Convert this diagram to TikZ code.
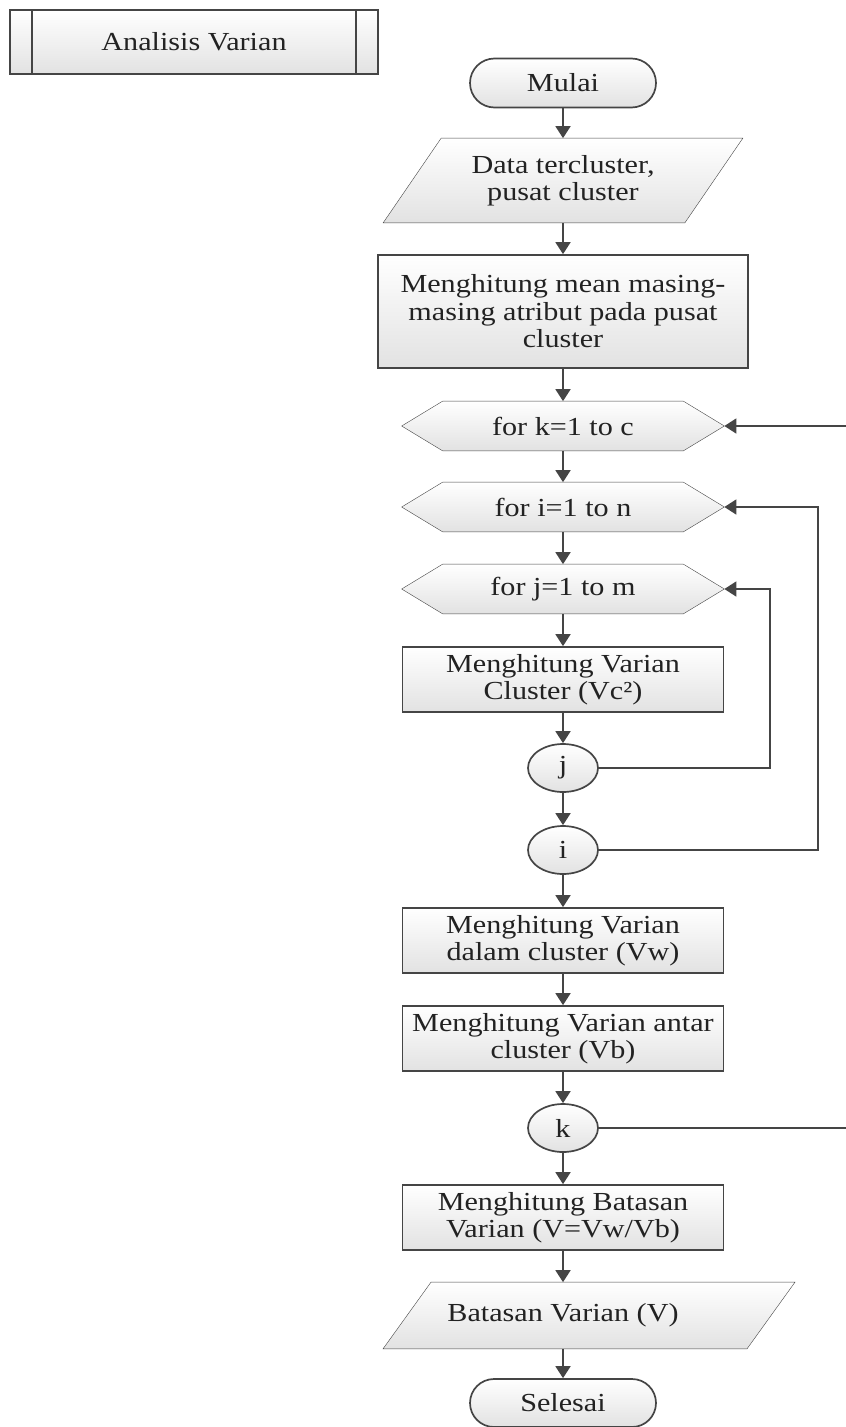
\documentclass[tikz,border=0pt]{standalone}
\usepackage{fontspec}
\setmainfont{Liberation Serif}[FakeStretch=1.16]
\usetikzlibrary{arrows.meta,shapes.geometric,shapes.misc,backgrounds,calc}
\definecolor{ink}{HTML}{454545}
\definecolor{txt}{HTML}{222222}
\definecolor{shadelo}{HTML}{E2E2E2}

\begin{document}
\begin{tikzpicture}[x=1pt,y=-1pt,
  line width=1.7pt,
  every node/.style={font=\fontsize{26}{27.5}\selectfont, text=txt, align=center, inner sep=0pt},
  shaded/.style={draw=ink, top color=white, bottom color=shadelo},
  procbox/.style={shaded, rectangle, minimum width=321pt, minimum height=65pt},
  termbox/.style={shaded, rounded rectangle, minimum width=186pt, minimum height=49pt},
  joint/.style={shaded, ellipse, minimum width=70pt, minimum height=48pt},
  loophead/.style={rectangle, minimum width=321pt, minimum height=48pt},
  flow/.style={draw=ink, -{Triangle[width=15pt,length=12pt]}},
  link/.style={draw=ink}
]
\useasboundingbox (0,0) rectangle (846,1427);
\clip (0,0) rectangle (846,1427);

% sub-process title box
\node[shaded, rectangle, minimum width=368pt, minimum height=64pt] (av) at (194,42) {Analisis Varian};
\draw[link] ($(av.north west)+(23,0)$) -- ($(av.south west)+(23,0)$);
\draw[link] ($(av.north east)+(-23,0)$) -- ($(av.south east)+(-23,0)$);

% main flow
\node[termbox] (mulai) at (563,83) {Mulai};
\node[rectangle, minimum width=358pt, minimum height=83pt] (dat) at (563,180.5) {Data tercluster,\\pusat cluster};
\node[procbox, minimum width=370pt, minimum height=113pt] (mean) at (563,311.5) {Menghitung mean masing-\\masing atribut pada pusat\\cluster};
\node[loophead] (fk) at (563,426) {for k=1 to c};
\node[loophead] (fi) at (563,507) {for i=1 to n};
\node[loophead] (fj) at (563,589) {for j=1 to m};
\node[procbox] (vc) at (563,679.5) {Menghitung Varian\\Cluster (Vc²)};
\node[joint] (cj) at (563,768) {j};
\node[joint] (ci) at (563,850) {i};
\node[procbox] (vw) at (563,940.5) {Menghitung Varian\\dalam cluster (Vw)};
\node[procbox] (vb) at (563,1038.5) {Menghitung Varian antar\\cluster (Vb)};
\node[joint] (ck) at (563,1128) {k};
\node[procbox] (bt) at (563,1217.5) {Menghitung Batasan\\Varian (V=Vw/Vb)};
\node[rectangle, minimum width=200pt, minimum height=65pt] (bv) at (563,1315.5) {Batasan Varian (V)};
\node[termbox, minimum height=48pt] (sel) at (563,1403) {Selesai};

% outlines of the parallelograms and loop hexagons
\begin{scope}[on background layer]
  \path[shaded] (dat.south west) -- ($(dat.north west)+(58,0)$) -- (dat.north east)
      -- ($(dat.south east)+(-58,0)$) -- cycle;
  \foreach \h in {fk,fi,fj}{
    \path[shaded] (\h.west) -- ($(\h.north west)+(41,0)$) -- ($(\h.north east)+(-41,0)$)
        -- (\h.east) -- ($(\h.south east)+(-41,0)$) -- ($(\h.south west)+(41,0)$) -- cycle;
  }
  \path[shaded] ($(bv.south)+(-180,0)$) -- ($(bv.north)+(-132,0)$) -- ($(bv.north)+(232,0)$)
      -- ($(bv.south)+(184,0)$) -- cycle;
\end{scope}

% straight connectors
\draw[flow] (mulai.south) -- (dat.north);
\draw[flow] (dat.south) -- (mean.north);
\draw[flow] (mean.south) -- (fk.north);
\draw[flow] (fk.south) -- (fi.north);
\draw[flow] (fi.south) -- (fj.north);
\draw[flow] (fj.south) -- (vc.north);
\draw[flow] (vc.south) -- (cj.north);
\draw[flow] (cj.south) -- (ci.north);
\draw[flow] (ci.south) -- (vw.north);
\draw[flow] (vw.south) -- (vb.north);
\draw[flow] (vb.south) -- (ck.north);
\draw[flow] (ck.south) -- (bt.north);
\draw[flow] (bt.south) -- (bv.north);
\draw[flow] (bv.south) -- (sel.north);

% loop-back connectors
\draw[flow] (cj.east) -- ++(171,0) |- (fj.east);
\draw[flow] (ci.east) -- ++(219,0) |- (fi.east);
\draw[flow] (ck.east) -- ++(320,0) |- (fk.east);
\end{tikzpicture}
\end{document}
